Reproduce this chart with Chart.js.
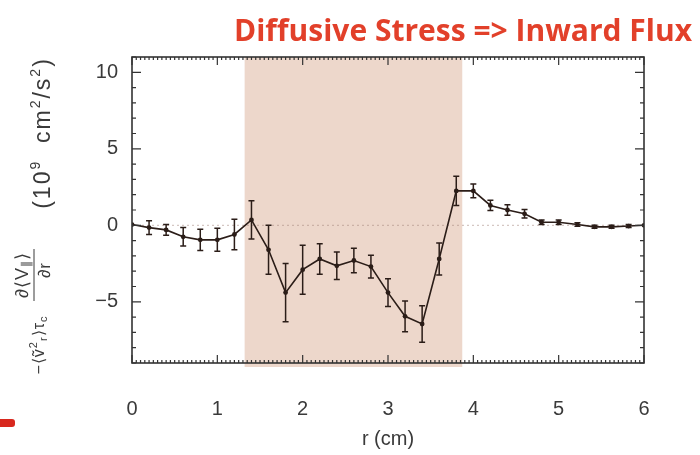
<!DOCTYPE html>
<html>
<head>
<meta charset="utf-8">
<script src="https://cdn.jsdelivr.net/npm/chart.js@4.4.1/dist/chart.umd.min.js"></script>
<style>
  body { margin: 0; background: #fff; }
  #wrap { position: relative; width: 700px; height: 455px; }
  #redMark { position: absolute; left: 0; top: 419px; width: 15px; height: 8px; background: #d8281e; border-radius: 0 3px 3px 0; filter: blur(0.7px); }
</style>
</head>
<body>
<div id="wrap">
  <canvas id="chart" width="700" height="455"></canvas>
  <div id="redMark"></div>
</div>
<script>
// radius r (cm), stress value (10^9 cm^2/s^2) and its error bar half-height
const radius = [0, 0.2, 0.4, 0.6, 0.8, 1.0, 1.2, 1.4, 1.6, 1.8, 2.0, 2.2, 2.4, 2.6, 2.8, 3.0,
                3.2, 3.4, 3.6, 3.8, 4.0, 4.2, 4.4, 4.6, 4.8, 5.0, 5.22, 5.42, 5.62, 5.82, 6.0];
const stress = [0.05, -0.15, -0.3, -0.75, -0.95, -0.95, -0.6, 0.35, -1.6, -4.4, -2.9, -2.2, -2.65, -2.3, -2.7, -4.4,
                -5.95, -6.45, -2.2, 2.25, 2.25, 1.3, 1.0, 0.75, 0.2, 0.2, 0.05, -0.1, -0.1, -0.05, 0];
const stressErr = [0, 0.45, 0.35, 0.6, 0.7, 0.75, 1.0, 1.25, 1.6, 1.9, 1.6, 1.0, 0.9, 0.8, 0.75, 0.9,
                   1.0, 1.2, 1.05, 0.95, 0.45, 0.33, 0.35, 0.28, 0.15, 0.15, 0.12, 0.1, 0.1, 0.1, 0];

const yTickValues = [-5, 0, 5, 10];
const shadedRange = [1.32, 3.87];
const chartTitle = 'Diffusive Stress => Inward Flux';
const xAxisTitle = 'r (cm)';

const inkColor = '#2b1d18';
const axisColor = '#3a3a3a';
const axisFont = 'Liberation Sans, Arial, sans-serif';

// draws a run of text pieces rotated -90deg, centered on (cx, cy)
function drawRotatedRun(ctx, cx, cy, pieces, spacing) {
    ctx.save();
    ctx.translate(cx, cy);
    ctx.rotate(-Math.PI / 2);
    ctx.textBaseline = 'middle';
    ctx.textAlign = 'left';
    ctx.letterSpacing = (spacing || 0) + 'px';
    let total = 0;
    const widths = pieces.map(p => {
        ctx.font = p.size + 'px ' + axisFont;
        const w = ctx.measureText(p.text).width;
        total += w;
        return w;
    });
    let u = -total / 2;
    pieces.forEach((p, i) => {
        ctx.font = p.size + 'px ' + axisFont;
        ctx.fillText(p.text, u, p.dy || 0);
        u += widths[i];
    });
    ctx.restore();
}

const decorPlugin = {
    id: 'decor',
    beforeDatasetsDraw(chart) {
        const {ctx, chartArea: a, scales: {x, y}} = chart;
        ctx.save();
        // shaded band
        ctx.fillStyle = 'rgba(232, 204, 188, 0.78)';
        const x0 = x.getPixelForValue(shadedRange[0]);
        const x1 = x.getPixelForValue(shadedRange[1]);
        ctx.fillRect(x0, a.top, x1 - x0, a.bottom - a.top + 4);
        // dotted zero line
        ctx.strokeStyle = 'rgba(160, 130, 120, 0.55)';
        ctx.lineWidth = 1;
        ctx.setLineDash([2, 3]);
        ctx.beginPath();
        ctx.moveTo(a.left, y.getPixelForValue(0));
        ctx.lineTo(a.right, y.getPixelForValue(0));
        ctx.stroke();
        ctx.restore();
    },
    afterDatasetsDraw(chart) {
        const {ctx, chartArea: a, scales: {x, y}} = chart;
        ctx.save();
        // error bars
        ctx.strokeStyle = inkColor;
        ctx.lineWidth = 1.5;
        radius.forEach((r, i) => {
            if (!stressErr[i]) return;
            const px = x.getPixelForValue(r);
            const lo = y.getPixelForValue(stress[i] - stressErr[i]);
            const hi = y.getPixelForValue(stress[i] + stressErr[i]);
            ctx.beginPath();
            ctx.moveTo(px, lo); ctx.lineTo(px, hi);
            ctx.moveTo(px - 3, lo); ctx.lineTo(px + 3, lo);
            ctx.moveTo(px - 3, hi); ctx.lineTo(px + 3, hi);
            ctx.stroke();
        });
        // frame
        ctx.strokeStyle = '#333';
        ctx.lineWidth = 1.6;
        ctx.strokeRect(a.left, a.top, a.right - a.left, a.bottom - a.top);
        // inward ticks, x axis (top and bottom)
        ctx.lineWidth = 1.2;
        ctx.beginPath();
        for (let i = 0; i <= 120; i++) {
            const px = x.getPixelForValue(i / 20);
            const len = i % 20 === 0 ? 8 : 3;
            ctx.moveTo(px, a.bottom); ctx.lineTo(px, a.bottom - len);
            ctx.moveTo(px, a.top); ctx.lineTo(px, a.top + len);
        }
        // inward ticks, y axis (left and right)
        for (let v = -9; v <= 11; v++) {
            const py = y.getPixelForValue(v);
            const len = v % 5 === 0 ? 9 : 4;
            ctx.moveTo(a.left, py); ctx.lineTo(a.left + len, py);
            ctx.moveTo(a.right, py); ctx.lineTo(a.right - len, py);
        }
        ctx.stroke();
        ctx.restore();
    },
    afterDraw(chart) {
        const {ctx} = chart;
        ctx.save();
        // red slide title
        ctx.fillStyle = '#e2402a';
        ctx.font = 'bold 30px "Open Sans", sans-serif';
        ctx.textAlign = 'center';
        ctx.textBaseline = 'middle';
        ctx.fillText(chartTitle, 463, 32);
        // y axis label
        ctx.fillStyle = axisColor;
        drawRotatedRun(ctx, 44, 133, [
            {text: '(10', size: 23}, {text: '9', size: 14, dy: -8},
            {text: '  cm', size: 23}, {text: '2', size: 14, dy: -8},
            {text: '/s', size: 23}, {text: '2', size: 14, dy: -8},
            {text: ')', size: 23}
        ], 2);
        drawRotatedRun(ctx, 23, 275, [
            {text: '\u2202\u27E8V', size: 18}, {text: '\u2225', size: 12, dy: 4}, {text: '\u27E9', size: 18}
        ], 1);
        drawRotatedRun(ctx, 45, 270, [
            {text: '\u2202r', size: 17}
        ], 1);
        ctx.strokeStyle = axisColor;
        ctx.lineWidth = 1;
        ctx.beginPath();
        ctx.moveTo(34, 249); ctx.lineTo(34, 301);
        ctx.stroke();
        drawRotatedRun(ctx, 40, 345, [
            {text: '\u2212\u27E8\u1E7D', size: 16}, {text: '2', size: 11, dy: -6}, {text: 'r', size: 11, dy: 4},
            {text: '\u27E9\u03C4', size: 16}, {text: 'c', size: 11, dy: 4}
        ], 1);
        ctx.restore();
    }
};

const points = radius.map((r, i) => ({x: r, y: stress[i]}));

new Chart(document.getElementById('chart'), {
    type: 'line',
    data: {
        datasets: [{
            data: points,
            borderColor: inkColor,
            borderWidth: 1.6,
            pointRadius: 2.4,
            pointBackgroundColor: inkColor,
            pointBorderWidth: 0,
            tension: 0,
            fill: false
        }]
    },
    options: {
        responsive: false,
        animation: false,
        layout: { padding: { top: 57, right: 56, left: 0, bottom: 0 } },
        plugins: { legend: { display: false }, tooltip: { enabled: false } },
        scales: {
            x: {
                type: 'linear',
                min: 0,
                max: 6,
                afterFit: s => { s.height = 92; },
                grid: { display: false, drawTicks: false },
                border: { display: false },
                ticks: { stepSize: 1, padding: 34, color: axisColor, font: { family: axisFont, size: 20 } },
                title: { display: true, text: xAxisTitle, color: axisColor, padding: { top: 0, bottom: 4 },
                         font: { family: axisFont, size: 20 } }
            },
            y: {
                min: -9,
                max: 11,
                afterFit: s => { s.width = 132; },
                afterBuildTicks: s => { s.ticks = yTickValues.map(v => ({value: v})); },
                grid: { display: false, drawTicks: false },
                border: { display: false },
                ticks: { padding: 14, color: axisColor, font: { family: axisFont, size: 20 },
                         callback: v => String(v).replace('-', '\u2212') }
            }
        }
    },
    plugins: [decorPlugin]
});
</script>
</body>
</html>
